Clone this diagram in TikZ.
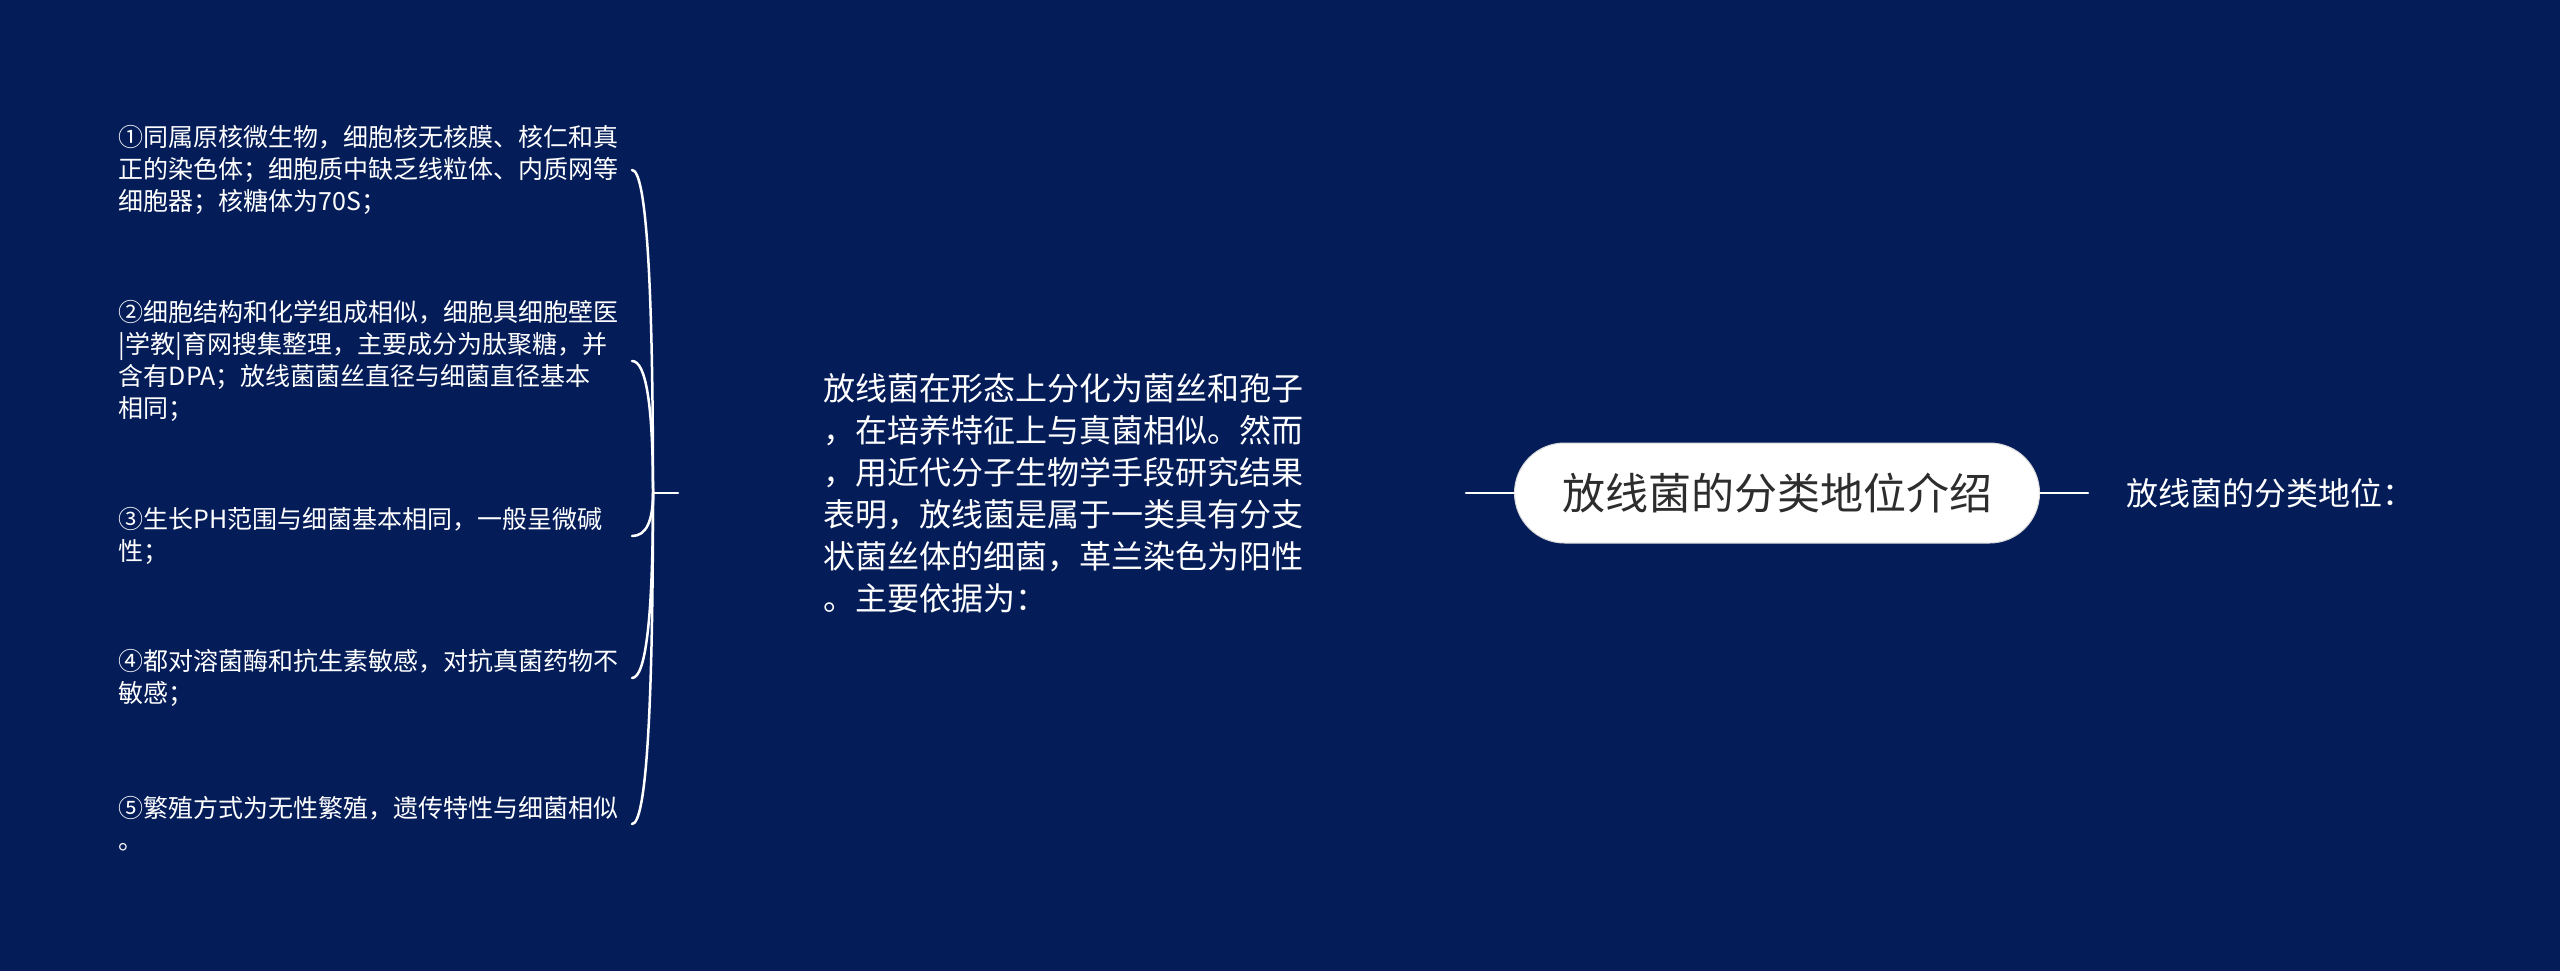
\documentclass[tikz,border=0pt]{standalone}
\usepackage{fontspec}
\setmainfont{Noto Sans CJK SC}
\usepackage{xcolor}
\usetikzlibrary{calc}
\definecolor{bgblue}{RGB}{4,29,89}
\definecolor{rootgray}{RGB}{45,45,45}

\begin{document}
\begin{tikzpicture}[x=1pt, y=-1pt, every node/.style={inner sep=0pt, text=white, align=left},
        link/.style={draw=white, line width=2.5pt, line cap=round}]
        \fill[bgblue] (0,0) rectangle (2560,971);

        \node[fill=white, draw=white!85!black, line width=1pt, rounded corners=50pt, minimum width=525pt, minimum height=100pt, align=center, text=rootgray, font=\fontsize{43}{52}\selectfont] (A) at (1777,493) {放线菌的分类地位介绍};
        \node[anchor=west, font=\fontsize{32}{42}\selectfont] (B) at (2126,493) {放线菌的分类地位：};
        \node[anchor=west, font=\fontsize{32}{42}\selectfont] (C) at (823,493) {放线菌在形态上分化为菌丝和孢子\\，在培养特征上与真菌相似。然而\\，用近代分子生物学手段研究结果\\表明，放线菌是属于一类具有分支\\状菌丝体的细菌，革兰染色为阳性\\。主要依据为：};
        \node[anchor=east, text width=513pt, font=\fontsize{25}{32}\selectfont] (D) at (632,170) {①同属原核微生物，细胞核无核膜、核仁和真\\正的染色体；细胞质中缺乏线粒体、内质网等\\细胞器；核糖体为70S；};
        \node[anchor=east, text width=513pt, font=\fontsize{25}{32}\selectfont] (E) at (632,361) {②细胞结构和化学组成相似，细胞具细胞壁医\\|学教|育网搜集整理，主要成分为肽聚糖，并\\含有DPA；放线菌菌丝直径与细菌直径基本\\相同；};
        \node[anchor=east, text width=513pt, font=\fontsize{25}{32}\selectfont] (F) at (632,536) {③生长PH范围与细菌基本相同，一般呈微碱\\性；};
        \node[anchor=east, text width=513pt, font=\fontsize{25}{32}\selectfont] (G) at (632,678) {④都对溶菌酶和抗生素敏感，对抗真菌药物不\\敏感；};
        \node[anchor=east, text width=513pt, font=\fontsize{25}{32}\selectfont] (H) at (632,824) {⑤繁殖方式为无性繁殖，遗传特性与细菌相似\\。};

        \coordinate (I) at (653,493);
        \coordinate (J) at (678,493);
        \coordinate (K) at (1466,493);
        \coordinate (L) at (2088,493);

        \draw[link] (A.west) -- (K);
        \draw[link] (A.east) -- (L);
        \draw[link] (J) -- (I);
        \draw[link] (I) .. controls ($(I)!0.667!(I|-D.east)$) and ($(D.east)!0.667!(I|-D.east)$) .. (D.east);
        \draw[link] (I) .. controls ($(I)!0.667!(I|-E.east)$) and ($(E.east)!0.667!(I|-E.east)$) .. (E.east);
        \draw[link] (I) .. controls ($(I)!0.667!(I|-F.east)$) and ($(F.east)!0.667!(I|-F.east)$) .. (F.east);
        \draw[link] (I) .. controls ($(I)!0.667!(I|-G.east)$) and ($(G.east)!0.667!(I|-G.east)$) .. (G.east);
        \draw[link] (I) .. controls ($(I)!0.667!(I|-H.east)$) and ($(H.east)!0.667!(I|-H.east)$) .. (H.east);
    \end{tikzpicture}
\end{document}
